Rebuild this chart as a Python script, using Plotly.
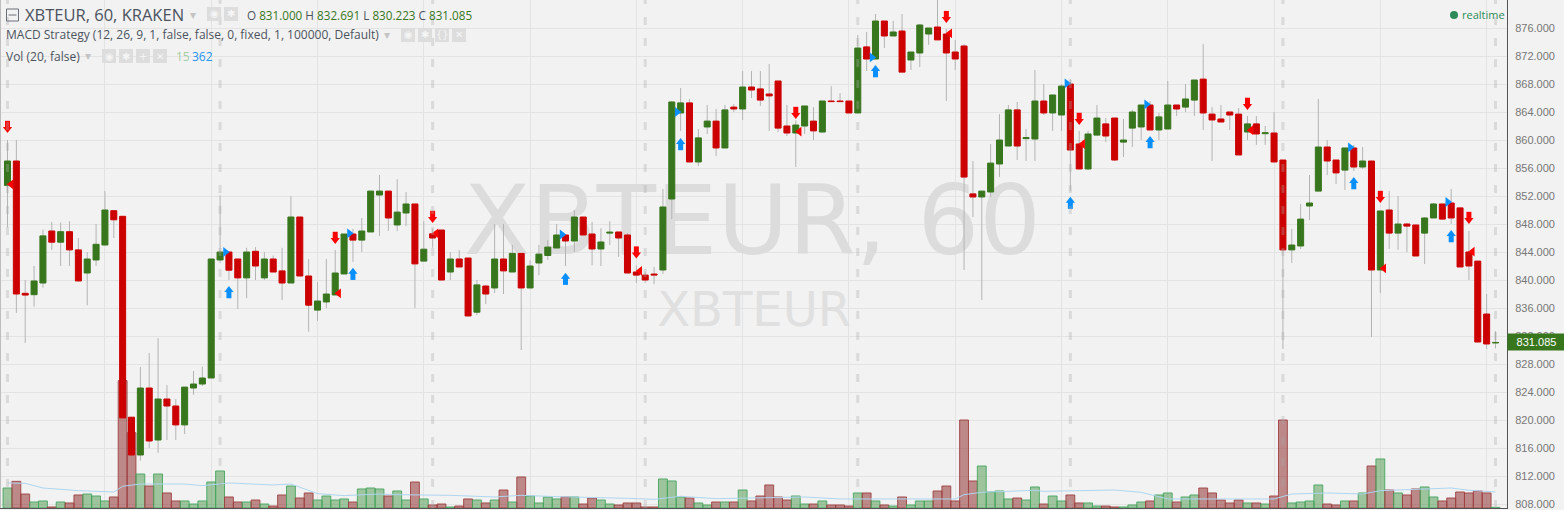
import plotly.graph_objects as go

open_vals = [853.5,857,838.1,837.9,839.57,847,845.4,846.9,844.3,841,842.86,845,849.9,849.1,820.4,815,824.57,817.14,823,822,
819.3,824.57,825.14,826,842.86,844,843,840.3,844.1,840.3,843,841.3,839.57,849,840.57,835.7,836.86,837.86,840.86,846.57,
845.7,846.86,852.14,852.7,847.86,849.57,850.86,842.7,846.6,847.14,841.14,843,843.14,835.4,839.14,838.86,843,841.14,843.8,838.86,
842.43,843.5,844.57,846.43,845.57,849,846.57,844.43,846.7,846.86,846.43,841.14,840.7,840.85,841.43,851.57,863.86,865.3,856.86,861.86,
862.7,858.86,864.7,864.43,867.57,867.3,866.57,868.43,862,861,862,862.7,861.14,865.57,865.57,865.57,863.86,873.3,871.57,877,
874.86,875.57,871.43,872.43,875.14,876.14,875.14,872.57,873.43,852.3,851.86,852.57,856.57,859.14,864.3,860.2,860.14,865.57,863.86,863.57,
868,859.43,855.86,860.7,862.3,863.14,859.7,861.7,861.86,865,861.43,861.57,865,864.7,865.7,868.7,863.7,863,864,863.7,
861.14,862.3,860.9,861,857.14,844.3,844.86,850.57,852.7,859,857.14,855.7,858.86,856.14,857,841.43,850,846.7,848,847.86,
846.7,848.86,850.86,851,850.3,844,842.7,835.14,831]
close_vals = [857,838,837.85,839.86,846.3,845.4,846.9,844.3,839.86,843,845.1,850,848.6,820.3,815,824.57,817,823,822,819.3,
824.7,825.14,826,843,844,841.4,840.3,844,842,843,841.14,839.57,849,840.57,836.4,837,838,841,846.57,845.7,
847,852.7,852.7,848.86,849.7,850.86,842.3,844.4,846,840,843,841.86,834.86,839.3,838,843,841.3,843.8,838.86,842,
843.7,844.7,846.43,845.57,849,846.43,844.43,845.43,846.85,846,841,840.7,840,840.7,850.43,865.43,865.3,856.86,860.3,862.7,
858.86,864.3,864.43,867.57,867.14,865.7,866.3,861.7,861,862.14,864.86,861.3,865.57,865.48,865.48,863.86,873.14,871.57,877,874.86,
875.43,869.7,872.57,876.43,876,874.3,872.43,871.57,854.7,851.86,852.7,856.7,860,864.3,859.14,860.35,865.57,863.86,866.43,867.7,
858.57,855.86,860.86,863.14,860.57,857.14,860,864,865,861.43,863.3,865,864.43,865.86,868.57,863.86,862.86,862.57,863.57,857.86,
862.3,860.86,861.05,856.86,844.3,845,848.7,851,859,857,855.3,858.86,856.14,857,841.43,849.86,846.7,848,847.7,843.43,
848.86,850.86,848.7,848.86,841.86,842,831.14,830.86,831.085]
high_vals = [860,860,840,842,847.2,848.3,848.2,848.4,846,844,848,852.7,849.9,849.1,820.4,827.57,829.57,831.7,825,823,
824.7,827,827.6,843,852.1,844,843,844.6,844.7,844,843.5,844.6,852,849,843,839.7,843,844.3,846.57,847.3,
848.86,852.7,855,852.7,854.4,852.57,850.86,848.4,847.3,847.14,844,844.3,843.14,840,839.3,848,848,845,843.8,842.8,
845,845.7,848,846.43,850,849,848.3,847.4,848.4,846.86,846.7,842.1,841.2,841.86,853,865.57,867.43,865.86,861.57,865,
864.43,865,865.14,869.86,869.86,869.86,870.86,868.43,865,862.8,864.86,864.7,865.57,867.7,866.7,865.57,875,875.43,878,877,
877,878,872.57,876.57,876,881,875.86,874.3,873.7,857,852.7,859.43,863.7,865,865.43,861.57,870,868,866.43,868,
868.7,861.3,861.3,865,863.14,863.14,863,864.3,865,865.57,863.86,868.43,865,868,868.57,873.7,864.7,865,864,864.57,
863.43,863.43,862,864,857.14,847.3,850.86,855,865.86,860,857.14,858.86,859.3,859,857,849.86,852.7,852,848.14,847.86,
849,851,850.86,853,850.3,847,842.7,838,832.691]
low_vals = [847.5,835.3,831,836.2,838.9,844.3,842,842,839.86,836.4,842,845,846,820.3,815,814.2,816,815.3,817.14,817.14,
818,823.6,824.86,826,842.4,840,835.86,837.4,840,840,841.14,837.14,839.57,840.57,832.6,834.14,836,837.86,840.86,842.6,
844,846.86,846.3,847,847,847.7,836,842.7,844.6,840,840,841.86,834.86,835,836.57,838.14,838,841.14,830,838.86,
840.7,842.86,844.57,842,844,846.43,842.1,842,845,843.3,841,839.57,839.6,839.4,840.86,848.7,861.3,856.86,856.3,860.86,
857.7,858.86,864,862.86,866,864.86,861.3,861.14,860.57,856.14,860.86,860,861,865.48,865.48,863.86,863.86,869.86,871.57,873.14,
874.86,869.7,870,870.43,873.57,874.3,865.57,870,841.43,849,837.14,851.86,854.7,859.14,857.14,857,857,863.57,861.3,861.3,
852.7,855.86,855.7,860.7,859.7,857,857.57,859,860,861.43,860,861.57,863.43,864,863.43,861.43,857,862.57,861.43,857.86,
860,859.3,859.3,856.86,830.14,842.43,844.43,848.57,852.7,855,853.7,852.86,855.57,855.86,831.86,838.14,844.43,844.3,844,843.43,
842.3,848.86,848.7,848,841.86,840,831.14,830.14,830.223]
volumes = [450,600,315,135,158,23,135,113,293,315,270,158,248,2865,1695,765,495,765,338,158,
158,90,158,585,833,248,135,135,180,90,45,293,495,225,338,180,270,180,203,135,
428,450,428,270,383,180,585,203,68,90,23,45,203,180,113,180,405,135,698,270,
113,248,203,248,248,90,225,180,90,68,113,113,23,23,653,608,248,225,113,68,
135,135,135,405,158,270,518,248,180,270,90,90,158,68,68,45,338,338,158,68,
45,248,68,158,158,383,495,158,1980,608,945,360,383,203,225,180,473,90,270,158,
293,113,113,45,45,23,23,68,135,158,293,338,135,248,293,450,338,180,113,180,
113,113,90,270,1980,113,135,158,518,90,68,158,158,338,945,1103,405,338,293,428,
473,248,158,225,360,338,383,338,15]
ma_index = [0,2,4,8,12,13,15,20,22,25,30,32,35,38,42,44,50,55,58,62,70,73,76,80,90,94,98,107,108,110,116,117,125,128,131,135,143,145,149,153,155,160,163,165,168]
ma_vals = [563,555,450,390,360,488,540,540,503,563,518,540,323,278,315,300,285,248,285,255,218,195,263,210,248,203,203,203,300,353,398,375,405,353,203,203,203,315,338,315,390,428,450,398,362]

sell_idx = [0,37,48,71,89,106,121,140,155,165]
sell_price = [861.8,845.95,848.95,843.86,863.8,877.5,862.95,865.1,851.8,848.8]
buy_idx = [25,39,63,76,98,120,129,152,163]
buy_price = [838.33,840.95,840.24,859.48,869.9,851.1,859.76,853.9,846.33]
entry_idx = [25,39,63,76,98,120,129,152,163]
entry_price = [844,846.67,846.5,864,871.8,868.1,865.1,858.95,851.14]
exit_idx = [0,37,48,71,89,106,121,140,155,165]
exit_price = [853.67,838.1,846.67,841.3,861.2,875.24,859.43,861.4,841.67,844.05]

price_ticks = list(range(808, 884, 4))
grid_bars = list(range(11, 168, 12))
session_bars = list(range(0, 169, 24))
n = len(open_vals)
assert all(len(a) == n for a in (close_vals, high_vals, low_vals, volumes)), [len(a) for a in (open_vals, close_vals, high_vals, low_vals, volumes)]
idx = list(range(n))

GREEN, RED = "#38761d", "#cc0000"
BG = "#f2f2f2"
W, H = 1564, 510
PL, PR, PT, PB = 1, 1507, 0, 508
def ax(px): return (px - PL) / (PR - PL)
def ay(py): return 1 - (py - PT) / (PB - PT)
XR = [-0.734, 169.3]
YR = [880 - (PB - PT) / 7, 880]

fig = go.Figure()
# watermark behind everything, on the base axes
fig.add_trace(go.Scatter(x=[84.1], y=[847.2], mode="text", text=["XBTEUR, 60"], yaxis="y",
    textfont=dict(family="DejaVu Sans", size=97, color="#dcdcdc"), textposition="middle center", hoverinfo="skip"))
fig.add_trace(go.Scatter(x=[84.3], y=[835.2], mode="text", text=["XBTEUR"], yaxis="y",
    textfont=dict(family="DejaVu Sans", size=48, color="#e0e0e0"), textposition="middle center", hoverinfo="skip"))
# wicks, under the bodies
wick_x, wick_y = [], []
for i, h, l in zip(idx, high_vals, low_vals):
    wick_x += [i, i, None]
    wick_y += [l, h, None]
fig.add_trace(go.Scatter(x=wick_x, y=wick_y, mode="lines", yaxis="y", hoverinfo="skip",
    line=dict(color="#b4b4b4", width=1)))
colors = [GREEN if c >= o else RED for o, c in zip(open_vals, close_vals)]
# volume, under the candle bodies
fill = ["rgba(53,140,53,0.45)" if c == GREEN else "rgba(134,30,30,0.5)" for c in colors]
edge = ["rgba(70,165,95,0.9)" if c == GREEN else "rgba(160,65,65,0.9)" for c in colors]
fig.add_trace(go.Bar(x=idx, y=volumes, width=1, yaxis="y2", hoverinfo="skip",
    marker=dict(color=fill, line=dict(color=edge, width=1))))
fig.add_trace(go.Scatter(x=ma_index, y=ma_vals, mode="lines", yaxis="y2", hoverinfo="skip",
    line=dict(color="#aed6f1", width=1)))
# bodies
fig.add_trace(go.Bar(x=idx, y=[abs(c - o) for o, c in zip(open_vals, close_vals)],
    base=[min(o, c) for o, c in zip(open_vals, close_vals)], width=0.68, yaxis="y3",
    marker=dict(color=colors, line=dict(color=colors, width=1)), hoverinfo="skip"))
# arrows
for ids, price, col, head, hd, sd in [(sell_idx, sell_price, "#ff0000", "triangle-down", -0.23, 0.39),
                                     (buy_idx, buy_price, "#0a8fff", "triangle-up", 0.23, -0.39)]:
    fig.add_trace(go.Scatter(x=ids, y=[p + hd for p in price], mode="markers", yaxis="y3", hoverinfo="skip",
        marker=dict(symbol=head, size=8, color=col, line=dict(width=0))))
    fig.add_trace(go.Scatter(x=ids, y=[p + sd for p in price], mode="markers", yaxis="y3", hoverinfo="skip",
        marker=dict(symbol="line-ns", size=5.5, line=dict(color=col, width=5))))
fig.add_trace(go.Scatter(x=[i - 0.4 for i in entry_idx], y=entry_price, mode="markers", yaxis="y3", hoverinfo="skip",
    marker=dict(symbol="triangle-right", size=8.5, color="#0a8fff", line=dict(width=0))))
fig.add_trace(go.Scatter(x=[i + 0.4 for i in exit_idx], y=exit_price, mode="markers", yaxis="y3", hoverinfo="skip",
    marker=dict(symbol="triangle-left", size=8.5, color="#ff0000", line=dict(width=0))))

for b in session_bars:
    fig.add_shape(type="line", xref="x", yref="paper", x0=b, x1=b, y0=0, y1=1, layer="above",
                  line=dict(color="rgba(170,170,170,0.33)", width=3, dash="8px,13px"))

TXT = "#4c525e"
def label(px, py, text, size=12, color=TXT, family="Open Sans", anchor="left"):
    fig.add_annotation(xref="paper", yref="paper", x=ax(px), y=ay(py), text=text, showarrow=False,
                       xanchor=anchor, yanchor="middle", font=dict(family=family, size=size, color=color))

label(23, 15, "XBTEUR, 60, KRAKEN", size=16.5)
V = f'<span style="color:{GREEN}">%s</span>'
label(245, 15.5, "O " + V % "831.000" + " H " + V % "832.691" + " L " + V % "830.223" + " C " + V % "831.085", size=11.7)
label(4, 35, "MACD Strategy (12, 26, 9, 1, false, false, 0, fixed, 1, 100000, Default)", size=12)
label(4, 56, "Vol (20, false)", size=12)
label(174, 56, "15", size=12, color="#a3cfa3")
label(190, 56, "362", size=12, color="#2196f3")
label(1460, 15, "realtime", size=11, color="#2e8b57")
for px, py in [(192.7, 15), (387, 35), (88, 56)]:
    label(px, py, "▾", size=12, color="#c4c4c4", family="DejaVu Sans", anchor="center")

# icon chips
def chip(px, py, glyph):
    fig.add_shape(type="rect", xref="paper", yref="paper", x0=ax(px), x1=ax(px + 14), y0=ay(py + 14), y1=ay(py),
                  fillcolor="#dddddd", line=dict(width=0), layer="above")
    label(px + 7, py + 7, glyph, size=10, color="#f5f5f5", family="DejaVu Sans", anchor="center")
for px in [(207, "◉"), (224, "✱")]:
    chip(px[0], 7, px[1])
for px in [(401, "◉"), (418, "✱"), (435, "{}"), (452, "✕")]:
    chip(px[0], 28, px[1])
for px in [(102, "◉"), (119, "✱"), (136, "+"), (153, "✕")]:
    chip(px[0], 49, px[1])
# collapse box
fig.add_shape(type="rect", xref="paper", yref="paper", x0=ax(6.5), x1=ax(18.5), y0=ay(21), y1=ay(9),
              line=dict(color="#6a6f78", width=1), layer="above")
fig.add_shape(type="line", xref="paper", yref="paper", x0=ax(8.5), x1=ax(16.5), y0=ay(15), y1=ay(15),
              line=dict(color="#6a6f78", width=1), layer="above")
fig.add_shape(type="circle", xref="paper", yref="paper", x0=ax(1450), x1=ax(1458), y0=ay(19), y1=ay(11),
              fillcolor="#2e8b57", line=dict(width=0), layer="above")
# last price tag
fig.add_annotation(xref="paper", yref="y3", x=1, y=831.14, text="831.085", showarrow=False, xanchor="left", yanchor="middle",
                   width=57, height=16, align="center", bgcolor=GREEN, borderpad=0,
                   font=dict(family="Liberation Sans", size=11, color="#ffffff"))

fig.update_layout(
    width=W, height=H, paper_bgcolor=BG, plot_bgcolor=BG, showlegend=False, barmode="overlay",
    margin=dict(l=PL, r=W - PR, t=PT, b=H - PB, pad=0), dragmode=False,
    xaxis=dict(range=XR, tickmode="array", tickvals=grid_bars, showticklabels=False, ticks="", showgrid=True,
               gridcolor="#e3e3e3", gridwidth=1, zeroline=False,
               showline=True, linecolor="#555555", linewidth=1),
    yaxis=dict(range=YR, side="right", tickmode="array", tickvals=price_ticks, ticktext=[f"{t}.000" for t in price_ticks],
               tickfont=dict(family="Liberation Sans", size=11, color="#777777"), ticks="", ticklabelstandoff=5,
               showgrid=True, gridcolor="#e3e3e3", gridwidth=1, zeroline=False, showline=True, linecolor="#555555", linewidth=1),
    yaxis2=dict(range=[0, (PB - PT) * 22.5], overlaying="y", side="left", showticklabels=False, ticks="", showgrid=False, zeroline=False,
                showline=True, linecolor="#bdbdbd", linewidth=1),
    yaxis3=dict(range=YR, overlaying="y", side="right", showticklabels=False, ticks="", showgrid=False, zeroline=False, showline=False),
)
fig.write_html("out.html", config={"displayModeBar": False},
               post_script="document.body.style.margin='0';document.body.style.background='#f2f2f2';document.documentElement.style.overflow='hidden';")
